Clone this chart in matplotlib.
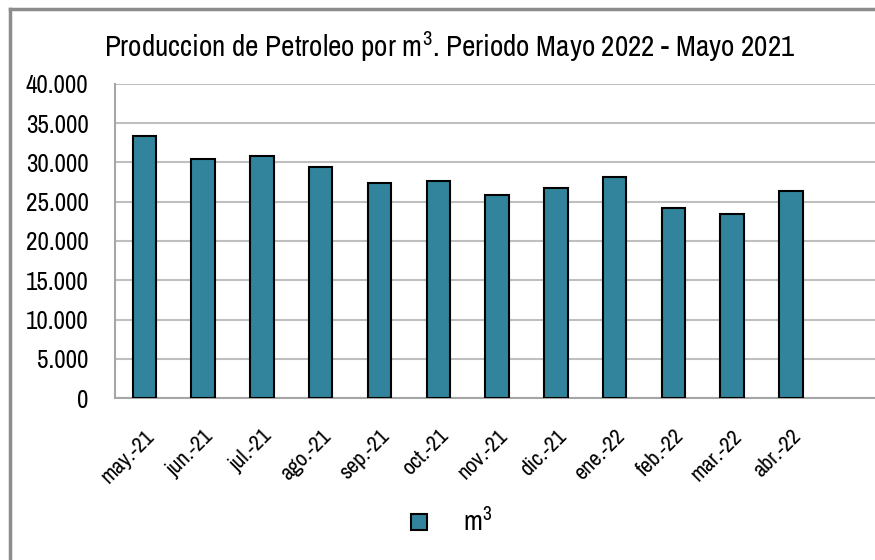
import matplotlib
matplotlib.use("Agg")
import matplotlib.pyplot as plt
from matplotlib import font_manager
from matplotlib.lines import Line2D
from matplotlib.ticker import FuncFormatter
import numpy as np

# fuente condensada si existe
names = sorted({f.name for f in font_manager.fontManager.ttflist})
cond = [n for n in names if "Narrow" in n or "Condensed" in n]
plt.rcParams['font.family'] = cond[:1] + ['DejaVu Sans']
if cond:
    plt.rcParams['mathtext.fontset'] = 'custom'
    plt.rcParams['mathtext.rm'] = cond[0]
    plt.rcParams['mathtext.it'] = cond[0]

meses = ['may.-21', 'jun.-21', 'jul.-21', 'ago.-21', 'sep.-21', 'oct.-21',
         'nov.-21', 'dic.-21', 'ene.-22', 'feb.-22', 'mar.-22', 'abr.-22']
produccion = [33400, 30400, 30800, 29450, 27400, 27600,
              25800, 26800, 28100, 24200, 23500, 26400]

color_barra = '#31849B'

fig = plt.figure(figsize=(8.75, 5.6), dpi=100)
ax = fig.add_axes([115/875, 162/560, 760/875, 314/560])

x = np.arange(len(meses))
ax.bar(x, produccion, width=0.4, color=color_barra, edgecolor='black', linewidth=1.5, zorder=3)

ax.set_xlim(-0.5, 12.43)
ax.set_ylim(0, 40000)
ax.set_yticks(np.arange(0, 40001, 5000))
ax.yaxis.set_major_formatter(FuncFormatter(lambda v, p: f'{int(v):,}'.replace(',', '.')))
ax.set_xticks(x)
ax.set_xticklabels(meses, rotation=45, ha='right', rotation_mode='anchor', fontsize=16)
ax.tick_params(axis='both', length=0)
ax.tick_params(axis='y', labelsize=18, pad=19)
ax.tick_params(axis='x', pad=20)
ax.grid(True, axis='y', color='#BFBFBF', linewidth=1.5, zorder=0)

for s in ['top', 'right']:
    ax.spines[s].set_visible(False)
ax.spines['left'].set_color('#A6A6A6')
ax.spines['bottom'].set_color('#A6A6A6')
ax.spines['left'].set_linewidth(1.5)
ax.spines['bottom'].set_linewidth(1.5)

fig.text(0.514, 1 - 47/560, r'Produccion de Petroleo por m$^{3}$. Periodo Mayo 2022 - Mayo 2021',
         ha='center', va='center', fontsize=21)

handle = Line2D([], [], marker='s', linestyle='none', markersize=11,
                markerfacecolor=color_barra, markeredgecolor='black', markeredgewidth=1.5)
fig.legend([handle], [r'm$^{3}$'], loc='center', bbox_to_anchor=(442/875, 1 - 522/560),
           frameon=False, fontsize=20, handletextpad=0.6)

# marco del grafico
fig.add_artist(Line2D([10/875, 10/875], [0, 1 - 9/560], color='#8C8C8C', linewidth=2.5))
fig.add_artist(Line2D([10/875, 1], [1 - 9/560, 1 - 9/560], color='#8C8C8C', linewidth=2.5))

fig.savefig('out.png', dpi=100)
